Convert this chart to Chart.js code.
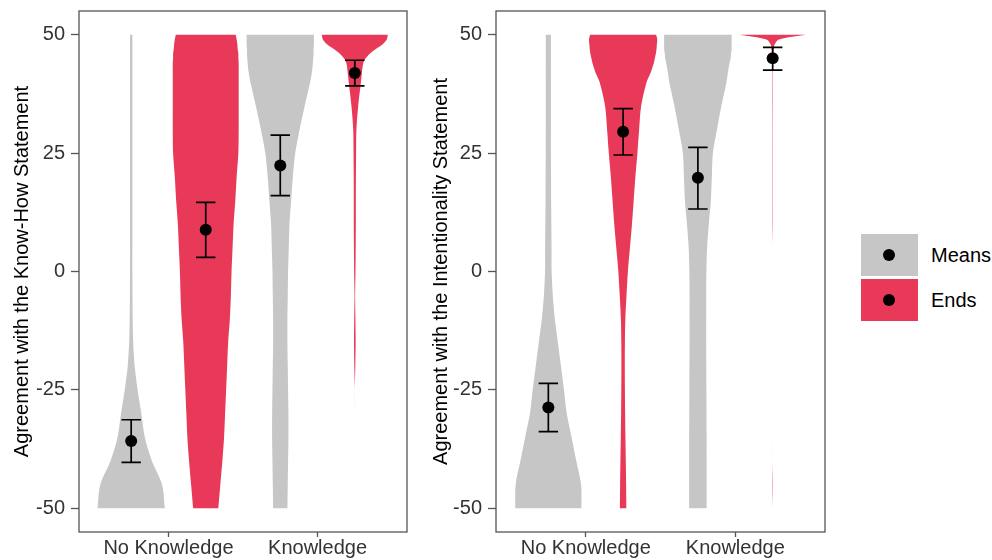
<!DOCTYPE html>
<html>
<head>
<meta charset="utf-8">
<script src="https://cdn.jsdelivr.net/npm/chart.js@4.4.1/dist/chart.umd.min.js"></script>
<style>
  body { margin: 0; background: #fff; width: 992px; height: 560px; position: relative; overflow: hidden;
         font-family: 'Liberation Sans', Arial, sans-serif; }
  canvas { position: absolute; top: 0; }
  #knowHowChart { left: 0; }
  #intentChart { left: 420px; }
  #legend { position: absolute; left: 861px; top: 234px; }
  .key { position: relative; width: 57px; height: 42px; margin-bottom: 3px; }
  .key .dot { position: absolute; left: 22px; top: 15px; width: 12px; height: 12px; border-radius: 50%; background: #000; }
  .key .label { position: absolute; left: 70px; top: 0; line-height: 42px; font-size: 20px; white-space: nowrap; color: #000; }
</style>
</head>
<body>
<canvas id="knowHowChart" width="420" height="560"></canvas>
<canvas id="intentChart" width="420" height="560"></canvas>
<div id="legend"></div>
<script>
const categories = ['No Knowledge', 'Knowledge'];
const seriesNames = ['Means', 'Ends'];
const seriesColors = ['#c6c6c6', '#e83a58'];
const yTicks = [-50, -25, 0, 25, 50];

// violin outlines: relative width at each level of the response scale
const densityLevels = [50, 49, 48, 47, 46, 45, 44, 42, 40, 35, 30, 25, 20, 15, 10, 5, 0,
                       -5, -10, -15, -20, -25, -30, -35, -40, -45, -50];

const knowHowMeansDensity = [
  [0.035, 0.035, 0.035, 0.035, 0.035, 0.035, 0.035, 0.035, 0.035, 0.035, 0.035, 0.035, 0.035, 0.035, 0.035, 0.035, 0.035,
   0.038, 0.044, 0.059, 0.103, 0.19, 0.30, 0.40, 0.61, 0.91, 0.99],
  [0.99, 0.99, 0.99, 0.98, 0.98, 0.97, 0.96, 0.93, 0.88, 0.72, 0.57, 0.44, 0.37, 0.32, 0.27, 0.25, 0.23,
   0.22, 0.21, 0.21, 0.22, 0.23, 0.24, 0.24, 0.23, 0.22, 0.21]
];
const knowHowEndsDensity = [
  [0.88, 0.91, 0.93, 0.94, 0.96, 0.96, 0.97, 0.97, 0.97, 0.97, 0.97, 0.96, 0.91, 0.87, 0.82, 0.79, 0.76,
   0.74, 0.71, 0.66, 0.63, 0.60, 0.57, 0.54, 0.49, 0.43, 0.37],
  [0.97, 0.94, 0.82, 0.62, 0.44, 0.32, 0.25, 0.21, 0.18, 0.10, 0.047, 0.038, 0.032, 0.03, 0.03, 0.026, 0.02,
   0.009, 0.018, 0.024, 0.015, 0, 0, 0, 0, 0, 0]
];
const intentMeansDensity = [
  [0.076, 0.076, 0.076, 0.076, 0.076, 0.076, 0.076, 0.076, 0.076, 0.076, 0.076, 0.076, 0.08, 0.082, 0.088, 0.094, 0.097,
   0.13, 0.19, 0.28, 0.37, 0.46, 0.54, 0.68, 0.82, 0.96, 0.97],
  [0.99, 0.99, 0.99, 0.99, 0.97, 0.96, 0.93, 0.88, 0.84, 0.69, 0.56, 0.44, 0.41, 0.38, 0.32, 0.27, 0.25,
   0.244, 0.244, 0.244, 0.247, 0.25, 0.253, 0.256, 0.256, 0.256, 0.256]
];
const intentEndsDensity = [
  [0.97, 1.0, 0.99, 0.98, 0.96, 0.93, 0.90, 0.81, 0.69, 0.53, 0.47, 0.42, 0.36, 0.31, 0.26, 0.20, 0.14,
   0.10, 0.065, 0.053, 0.05, 0.053, 0.059, 0.068, 0.079, 0.088, 0.094],
  [0.97, 0.18, 0.06, 0.03, 0.02, 0.012, 0.008, 0.006, 0.006, 0.006, 0.005, 0.005, 0.005, 0.005, 0.005, 0, 0,
   0, 0, 0, 0, 0, 0, 0, 0, 0.006, 0]
];

// mean and error bar ends, [No Knowledge, Knowledge]
const knowHowMeansMean = [-35.8, 22.4];
const knowHowMeansLow  = [-40.3, 16.0];
const knowHowMeansHigh = [-31.3, 28.8];
const knowHowEndsMean  = [8.8, 41.9];
const knowHowEndsLow   = [3.0, 39.2];
const knowHowEndsHigh  = [14.6, 44.6];

const intentMeansMean = [-28.7, 19.8];
const intentMeansLow  = [-33.8, 13.2];
const intentMeansHigh = [-23.6, 26.2];
const intentEndsMean  = [29.5, 45.0];
const intentEndsLow   = [24.6, 42.5];
const intentEndsHigh  = [34.4, 47.3];

const DODGE = 0.25;
const HALF_WIDTH = 0.228;
const CAP = 0.065;

Chart.defaults.font.family = "'Liberation Sans', Arial, sans-serif";
Chart.defaults.font.size = 20;

const framePlugin = {
  id: 'frame',
  afterDraw(chart) {
    const { ctx, chartArea: a } = chart;
    ctx.save();
    ctx.strokeStyle = '#555';
    ctx.lineWidth = 1.3;
    ctx.strokeRect(a.left, a.top, a.right - a.left, a.bottom - a.top);
    ctx.restore();
  }
};

// outline: down the right side, back up the left; corner points doubled so the flat ends stay flat
function violin(center, dens) {
  const right = densityLevels.map((y, i) => ({ x: center + dens[i] * HALF_WIDTH, y }));
  const left = densityLevels.map((y, i) => ({ x: center - dens[i] * HALF_WIDTH, y })).reverse();
  right.push({ ...right[right.length - 1] });
  left.unshift({ ...left[0] });
  return right.concat(left);
}

function makePanel(id, title, density, mean, low, high, axisWidth, padRight, titlePad) {
  const datasets = [];
  const dots = [];
  const bars = [];
  seriesNames.forEach((name, s) => {
    categories.forEach((cat, c) => {
      const x = c + 1 + (s === 0 ? -DODGE : DODGE);
      datasets.push({
        label: name + ' ' + cat,
        data: violin(x, density[s][c]),
        backgroundColor: seriesColors[s],
        borderColor: 'rgba(0,0,0,0)',
        borderWidth: 0,
        fill: 'shape',
        pointRadius: 0,
        tension: 0.3,
        order: 3
      });
      dots.push({ x, y: mean[s][c] });
      const hi = high[s][c], lo = low[s][c];
      bars.push({ x: x - CAP, y: hi }, { x: x + CAP, y: hi }, { x, y: null },
                { x, y: hi }, { x, y: lo }, { x, y: null },
                { x: x - CAP, y: lo }, { x: x + CAP, y: lo }, { x, y: null });
    });
  });
  datasets.push({ data: bars, borderColor: '#000', borderWidth: 1.7, pointRadius: 0, fill: false, spanGaps: false, order: 2 });
  datasets.push({ data: dots, showLine: false, pointRadius: 6, pointBackgroundColor: '#000', pointBorderWidth: 0, order: 1 });

  return new Chart(document.getElementById(id), {
    type: 'line',
    data: { datasets },
    options: {
      responsive: false,
      animation: false,
      layout: { padding: { left: 0, top: 11, right: padRight, bottom: 0 } },
      plugins: { legend: { display: false }, tooltip: { enabled: false } },
      scales: {
        x: {
          type: 'linear', min: 0.4, max: 2.6,
          afterBuildTicks: sc => { sc.ticks = categories.map((_, i) => ({ value: i + 1 })); },
          afterFit: sc => { sc.height = 28; sc.paddingLeft = 0; sc.paddingRight = 0; },
          grid: { drawOnChartArea: false, tickLength: 5, color: '#555', tickWidth: 1.3 },
          border: { display: false },
          ticks: { callback: v => categories[v - 1], color: '#333', padding: 1, maxRotation: 0, autoSkip: false,
                   font: { size: 20, lineHeight: 1.0 } }
        },
        y: {
          type: 'linear', min: -55, max: 55,
          afterBuildTicks: sc => { sc.ticks = yTicks.map(v => ({ value: v })); },
          afterFit: sc => { sc.width = axisWidth; sc.paddingTop = 0; sc.paddingBottom = 0; },
          grid: { drawOnChartArea: false, tickLength: 8, color: '#555', tickWidth: 1.3 },
          border: { display: false },
          ticks: { color: '#333', padding: 6 },
          title: { display: true, text: title, color: '#000', padding: { top: titlePad, bottom: 0 } }
        }
      }
    },
    plugins: [framePlugin]
  });
}

makePanel('knowHowChart', 'Agreement with the Know-How Statement',
  [knowHowMeansDensity, knowHowEndsDensity],
  [knowHowMeansMean, knowHowEndsMean],
  [knowHowMeansLow, knowHowEndsLow],
  [knowHowMeansHigh, knowHowEndsHigh], 79, 13, 10);

makePanel('intentChart', 'Agreement with the Intentionality Statement',
  [intentMeansDensity, intentEndsDensity],
  [intentMeansMean, intentEndsMean],
  [intentMeansLow, intentEndsLow],
  [intentMeansHigh, intentEndsHigh], 76, 15, 9);

const legend = document.getElementById('legend');
seriesNames.forEach((name, i) => {
  const key = document.createElement('div');
  key.className = 'key';
  key.style.background = seriesColors[i];
  key.innerHTML = '<span class="dot"></span><span class="label"></span>';
  key.querySelector('.label').textContent = name;
  legend.appendChild(key);
});
</script>
</body>
</html>
